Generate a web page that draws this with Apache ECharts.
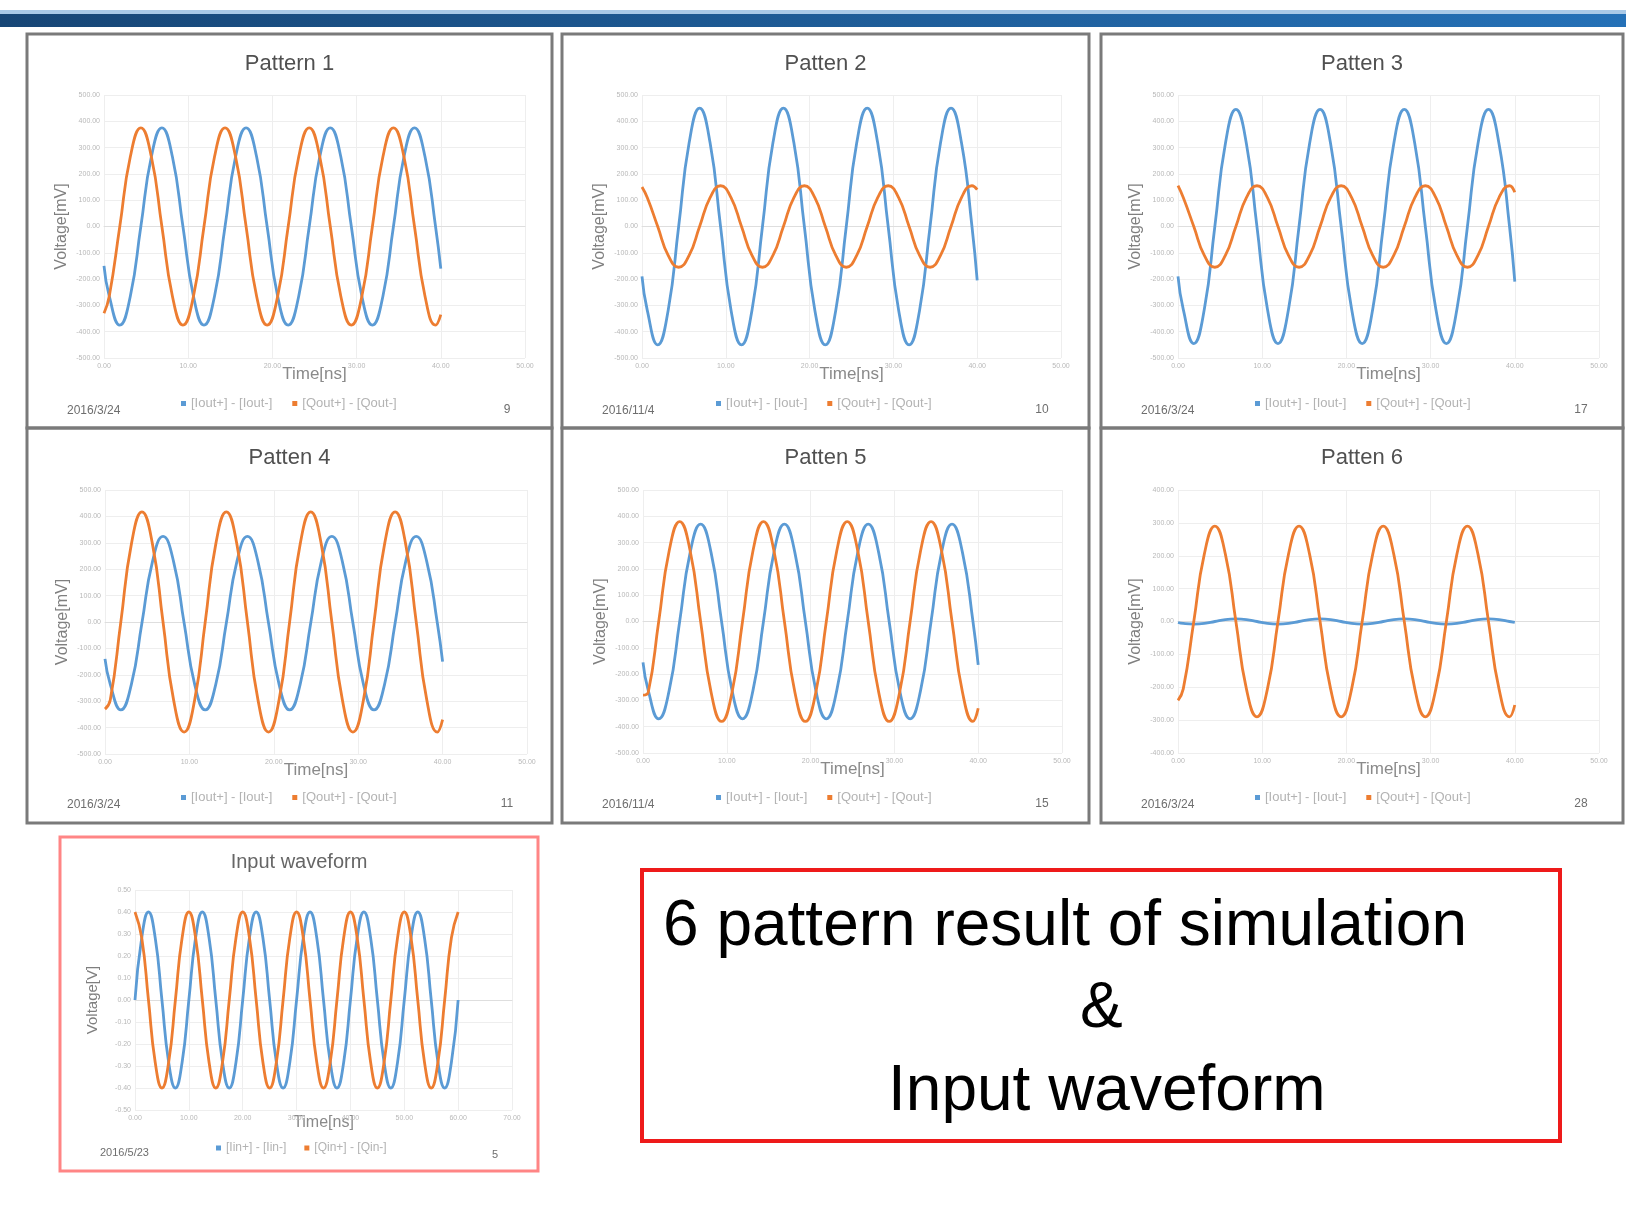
<!DOCTYPE html>
<html><head><meta charset="utf-8">
<script src="https://cdn.jsdelivr.net/npm/echarts@6/dist/echarts.min.js"></script>
<style>html,body{margin:0;padding:0;background:#fff}#c{width:1626px;height:1208px}</style>
</head><body><div id="c"></div>
<script>
// ---- time samples (ns) ----
const timeOut = [0, 0.625, 1.875, 3.125, 4.375, 5.625, 6.875, 8.125, 9.375, 10.625, 11.875, 13.125, 14.375, 15.625, 16.875, 18.125, 19.375, 20.625, 21.875, 23.125, 24.375, 25.625, 26.875, 28.125, 29.375, 30.625, 31.875, 33.125, 34.375, 35.625, 36.875, 38.125, 39.375, 40];
const timeIn = [0,1.25,2.5,3.75,5,6.25,7.5,8.75,10,11.25,12.5,13.75,15,16.25,17.5,18.75,20,21.25,22.5,23.75,25,26.25,27.5,28.75,30,31.25,32.5,33.75,35,36.25,37.5,38.75,40,41.25,42.5,43.75,45,46.25,47.5,48.75,50,51.25,52.5,53.75,55,56.25,57.5,58.75,60];

// ---- read values (mV) ----
const p1Blue = [-150,
 -265,-375,-265,0,265,375,265,0, -265,-375,-265,0,265,375,265,0,
 -265,-375,-265,0,265,375,265,0, -265,-375,-265,0,265,375,265,0, -160];
const p1Orange = [-330,
 -265,0,265,375,265,0,-265,-375, -265,0,265,375,265,0,-265,-375,
 -265,0,265,375,265,0,-265,-375, -265,0,265,375,265,0,-265,-375, -335];
const p2Blue = [-190,
 -318,-450,-318,0,318,450,318,0, -318,-450,-318,0,318,450,318,0,
 -318,-450,-318,0,318,450,318,0, -318,-450,-318,0,318,450,318,0, -205];
const p2Orange = [150,
 110,0,-110,-155,-110,0,110,155, 110,0,-110,-155,-110,0,110,155,
 110,0,-110,-155,-110,0,110,155, 110,0,-110,-155,-110,0,110,155, 140];
const p3Blue = [-190,
 -315,-445,-315,0,315,445,315,0, -315,-445,-315,0,315,445,315,0,
 -315,-445,-315,0,315,445,315,0, -315,-445,-315,0,315,445,315,0, -210];
const p3Orange = [155,
 110,0,-110,-155,-110,0,110,155, 110,0,-110,-155,-110,0,110,155,
 110,0,-110,-155,-110,0,110,155, 110,0,-110,-155,-110,0,110,155, 130];
const p4Blue = [-140,
 -236,-333,-236,-4,229,324,229,-4, -236,-333,-236,-4,229,324,229,-4,
 -236,-333,-236,-4,229,324,229,-4, -236,-333,-236,-4,229,324,229,-4, -150];
const p4Orange = [-330,
 -295,0,295,417,295,0,-295,-417, -295,0,295,417,295,0,-295,-417,
 -295,0,295,417,295,0,-295,-417, -295,0,295,417,295,0,-295,-417, -370];
const p5Blue = [-155,
 -262,-370,-262,0,262,370,262,0, -262,-370,-262,0,262,370,262,0,
 -262,-370,-262,0,262,370,262,0, -262,-370,-262,0,262,370,262,0, -165];
const p5Orange = [-280,
 -269,0,269,380,269,0,-269,-380, -269,0,269,380,269,0,-269,-380,
 -269,0,269,380,269,0,-269,-380, -269,0,269,380,269,0,-269,-380, -330];
const p6Blue = [-3,
 -6,-8,-6,0,6,8,6,0, -6,-8,-6,0,6,8,6,0,
 -6,-8,-6,0,6,8,6,0, -6,-8,-6,0,6,8,6,0, -3];
const p6Orange = [-240,
 -205,0,205,290,205,0,-205,-290, -205,0,205,290,205,0,-205,-290,
 -205,0,205,290,205,0,-205,-290, -205,0,205,290,205,0,-205,-290, -254];
// input waveform (V)
const inBlue = [0,0.283,0.4,0.283,0,-0.283,-0.4,-0.283, 0,0.283,0.4,0.283,0,-0.283,-0.4,-0.283,
 0,0.283,0.4,0.283,0,-0.283,-0.4,-0.283, 0,0.283,0.4,0.283,0,-0.283,-0.4,-0.283,
 0,0.283,0.4,0.283,0,-0.283,-0.4,-0.283, 0,0.283,0.4,0.283,0,-0.283,-0.4,-0.283, 0];
const inOrange = [0.4,0.283,0,-0.283,-0.4,-0.283,0,0.283, 0.4,0.283,0,-0.283,-0.4,-0.283,0,0.283,
 0.4,0.283,0,-0.283,-0.4,-0.283,0,0.283, 0.4,0.283,0,-0.283,-0.4,-0.283,0,0.283,
 0.4,0.283,0,-0.283,-0.4,-0.283,0,0.283, 0.4,0.283,0,-0.283,-0.4,-0.283,0,0.283, 0.4];

const outNames = ['[Iout+] - [Iout-]', '[Qout+] - [Qout-]'];
const inNames = ['[Iin+] - [Iin-]', '[Qin+] - [Qin-]'];
const titles = ['Pattern 1','Patten 2','Patten 3','Patten 4','Patten 5','Patten 6','Input waveform'];
const dates = ['2016/3/24','2016/11/4','2016/3/24','2016/3/24','2016/11/4','2016/3/24','2016/5/23'];
const pages = ['9','10','17','11','15','28','5'];

const FONT = 'Liberation Sans';
const BLUE = '#5b9bd5', ORANGE = '#ed7d31';

// layout (positions only)
const panels = [
 {box:[27,34,525,394],  grid:[104,95,421,263],  yMax:500, yInt:100, xMax:50, t:timeOut, b:p1Blue, o:p1Orange, names:outNames},
 {box:[562,34,527,394], grid:[642,95,419,263],  yMax:500, yInt:100, xMax:50, t:timeOut, b:p2Blue, o:p2Orange, names:outNames},
 {box:[1101,34,522,394],grid:[1178,95,421,263], yMax:500, yInt:100, xMax:50, t:timeOut, b:p3Blue, o:p3Orange, names:outNames},
 {box:[27,428,525,395], grid:[105,490,422,264], yMax:500, yInt:100, xMax:50, t:timeOut, b:p4Blue, o:p4Orange, names:outNames},
 {box:[562,428,527,395],grid:[643,490,419,263], yMax:500, yInt:100, xMax:50, t:timeOut, b:p5Blue, o:p5Orange, names:outNames},
 {box:[1101,428,522,395],grid:[1178,490,421,263],yMax:400, yInt:100, xMax:50, t:timeOut, b:p6Blue, o:p6Orange, names:outNames},
 {box:[60,837,478,334], grid:[135,890,377,220], yMax:0.5, yInt:0.1, xMax:70, t:timeIn, b:inBlue, o:inOrange, names:inNames, input:true}
];

const grids=[], xAxes=[], yAxes=[], series=[], legends=[], graphics=[];

graphics.push({type:'rect', shape:{x:0,y:10,width:1626,height:4}, style:{fill:'#a9c9e7'}, silent:true});
graphics.push({type:'rect', shape:{x:0,y:14,width:1626,height:13}, style:{fill:new echarts.graphic.LinearGradient(0,0,1,0,[{offset:0,color:'#174676'},{offset:1,color:'#2571b7'}])}, silent:true});

function txt(x,y,text,size,color,align,rot){
  return {type:'text', x:x, y:y, rotation:rot||0, silent:true,
    style:{text:text, fontSize:size, fontFamily:FONT, fill:color,
      align:align||'center', textAlign:align||'center', verticalAlign:'middle', textVerticalAlign:'middle'}};
}

panels.forEach((p,i)=>{
  const [bx,by,bw,bh]=p.box, [gx,gy,gw,gh]=p.grid;
  grids.push({left:gx, top:gy, width:gw, height:gh, containLabel:false, outerBoundsMode:'none'});
  xAxes.push({gridIndex:i, type:'value', min:0, max:p.xMax, interval:10,
    axisLine:{onZero:true, lineStyle:{color:'#dedede', width:1}}, axisTick:{show:false},
    axisLabel:{fontSize:7, color:'#b8b8b8', margin:5, fontFamily:FONT, formatter:v=>v.toFixed(2)},
    splitLine:{show:true, lineStyle:{color:'#eeeeee', width:1}}});
  yAxes.push({gridIndex:i, type:'value', min:-p.yMax, max:p.yMax, interval:p.yInt,
    axisLine:{show:false}, axisTick:{show:false},
    axisLabel:{fontSize:7, color:'#b8b8b8', margin:4, fontFamily:FONT, formatter:v=>v.toFixed(2)},
    splitLine:{show:true, lineStyle:{color:'#eeeeee', width:1}}});
  series.push({type:'line', name:p.names[0], xAxisIndex:i, yAxisIndex:i, smooth:0.5, showSymbol:false, animation:false,
    data:p.t.map((x,k)=>[x,p.b[k]]), lineStyle:{color:BLUE,width:2.8}, itemStyle:{color:BLUE}});
  series.push({type:'line', name:p.names[1], xAxisIndex:i, yAxisIndex:i, smooth:0.5, showSymbol:false, animation:false,
    data:p.t.map((x,k)=>[x,p.o[k]]), lineStyle:{color:ORANGE,width:2.8}, itemStyle:{color:ORANGE}});

  if(!p.input){
    graphics.push({type:'rect', shape:{x:bx,y:by,width:bw,height:bh}, style:{fill:null, stroke:'#7a7a7a', lineWidth:3}, silent:true});
    graphics.push(txt(bx+bw/2, by+30, titles[i], 22, '#505050'));
    graphics.push(txt(gx+gw/2, gy+gh+16, 'Time[ns]', 17, '#8a8a8a'));
    graphics.push(txt(gx-42, gy+gh/2, 'Voltage[mV]', 16, '#7f7f7f', 'center', Math.PI/2));
    graphics.push(txt(bx+40, by+377, dates[i], 12, '#6e6e6e', 'left'));
    graphics.push(txt(bx+480, by+376, pages[i], 12, '#6e6e6e'));
    legends.push({left:bx+154, top:by+363, padding:0, itemWidth:5, itemHeight:5, itemGap:20, icon:'rect', selectedMode:false,
      textStyle:{fontSize:13, color:'#b3b3b3', fontFamily:FONT}, data:p.names});
  } else {
    graphics.push({type:'rect', shape:{x:bx,y:by,width:bw,height:bh}, style:{fill:null, stroke:'#ff8585', lineWidth:3}, silent:true});
    graphics.push(txt(bx+bw/2, 862, titles[i], 20, '#666666'));
    graphics.push(txt(gx+gw/2, gy+gh+13, 'Time[ns]', 16, '#8a8a8a'));
    graphics.push(txt(gx-42, gy+gh/2, 'Voltage[V]', 15, '#7f7f7f', 'center', Math.PI/2));
    graphics.push(txt(100, 1153, dates[i], 11, '#6e6e6e', 'left'));
    graphics.push(txt(495, 1155, pages[i], 11, '#6e6e6e'));
    legends.push({left:216, top:1142, padding:0, itemWidth:5, itemHeight:5, itemGap:18, icon:'rect', selectedMode:false,
      textStyle:{fontSize:12, color:'#b3b3b3', fontFamily:FONT}, data:p.names});
  }
});

// summary text box
graphics.push({type:'rect', shape:{x:642,y:870,width:918,height:271}, style:{fill:null, stroke:'#ee1a1a', lineWidth:4}, silent:true});
graphics.push(txt(663, 927, '6 pattern result of simulation', 64, '#000000', 'left'));
graphics.push(txt(1080, 1009, '&', 64, '#000000', 'left'));
graphics.push(txt(888, 1092, 'Input waveform', 64, '#000000', 'left'));

const chart = echarts.init(document.getElementById('c'), null, {renderer:'canvas'});
chart.setOption({
  backgroundColor:'#ffffff', animation:false,
  grid:grids, xAxis:xAxes, yAxis:yAxes, series:series, legend:legends, graphic:graphics
});
</script></body></html>
